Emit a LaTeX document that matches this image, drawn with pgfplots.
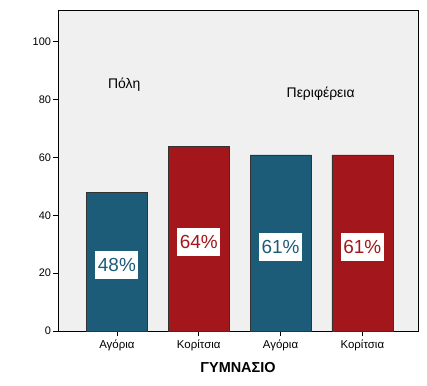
\documentclass[border=0pt]{standalone}
\usepackage{pgfplots}
\pgfplotsset{compat=1.18}
\usepackage{fontspec}
\setmainfont{Liberation Sans}
\definecolor{teal1}{HTML}{1D5C78}
\definecolor{red1}{HTML}{A3171C}
\definecolor{bg}{HTML}{F0F0F0}
\begin{document}
\begin{tikzpicture}
\begin{axis}[
  scale only axis, width=360bp, height=321bp,
  xmin=-0.72, xmax=3.68, ymin=0, ymax=111,
  axis background/.style={fill=bg},
  axis line style={black, line width=0.8pt},
  xtick={0,1,2,3},
  xticklabels={Αγόρια,Κορίτσια,Αγόρια,Κορίτσια},
  ytick={0,20,40,60,80,100},
  tick style={black, line width=0.8pt},
  tick align=outside, major tick length=5bp,
  xtick pos=bottom, ytick pos=left,
  yticklabel style={font=\fontsize{11}{13}\selectfont, xshift=1.5bp},
  xticklabel style={font=\fontsize{11.5}{13}\selectfont, yshift=-0.5bp},
  /pgf/number format/assume math mode=true,
  xlabel={\textbf{ΓΥΜΝΑΣΙΟ}},
  xlabel style={font=\fontsize{14.5}{16}\selectfont, yshift=-5bp},
  ylabel={},
  clip=false,
]
\addplot[ybar, bar width=0.745, fill=teal1, draw=black!80, line width=0.6pt] coordinates {(0,47.8) (2,60.9)};
\addplot[ybar, bar width=0.745, fill=red1, draw=black!80, line width=0.6pt] coordinates {(1,63.8) (3,60.9)};
\tikzset{lab/.style={fill=white, font=\fontsize{19}{21}\selectfont, inner xsep=2.5bp, inner ysep=0pt, minimum height=28bp}}
\node[lab, text=teal1] at (axis cs:0,22.8) {48\%};
\node[lab, text=red1] at (axis cs:1,30.8) {64\%};
\node[lab, text=teal1] at (axis cs:2,29.2) {61\%};
\node[lab, text=red1] at (axis cs:3,29.2) {61\%};
\node[font=\fontsize{14}{16}\selectfont] at (axis cs:0.09,85) {Πόλη};
\node[font=\fontsize{14}{16}\selectfont] at (axis cs:2.49,82.2) {Περιφέρεια};
\end{axis}
\path ([xshift=-58bp,yshift=-55bp]current axis.south west) rectangle ([xshift=9bp,yshift=10bp]current axis.north east);
\end{tikzpicture}
\end{document}
